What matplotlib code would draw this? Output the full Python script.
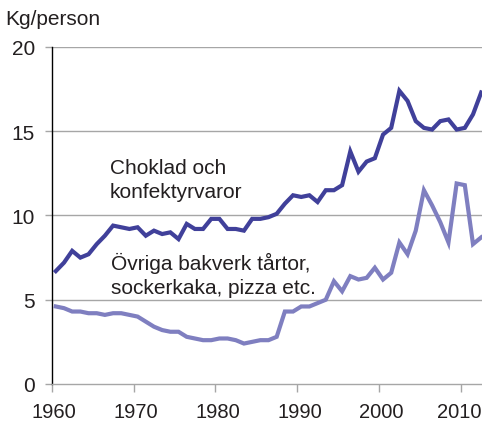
import numpy as np
import matplotlib.pyplot as plt

plt.rcParams['font.family'] = ['Liberation Sans', 'DejaVu Sans']

years = np.arange(1960, 2013)

# kg per person and year
choklad = [6.7, 7.2, 7.9, 7.5, 7.7, 8.3, 8.8, 9.4, 9.3, 9.2,
           9.3, 8.8, 9.1, 8.9, 9.0, 8.6, 9.5, 9.2, 9.2, 9.8,
           9.8, 9.2, 9.2, 9.1, 9.8, 9.8, 9.9, 10.1, 10.7, 11.2,
           11.1, 11.2, 10.8, 11.5, 11.5, 11.8, 13.8, 12.6, 13.2, 13.4,
           14.8, 15.2, 17.4, 16.8, 15.6, 15.2, 15.1, 15.6, 15.7, 15.1,
           15.2, 16.0, 17.3]
ovriga = [4.6, 4.5, 4.3, 4.3, 4.2, 4.2, 4.1, 4.2, 4.2, 4.1,
          4.0, 3.7, 3.4, 3.2, 3.1, 3.1, 2.8, 2.7, 2.6, 2.6,
          2.7, 2.7, 2.6, 2.4, 2.5, 2.6, 2.6, 2.8, 4.3, 4.3,
          4.6, 4.6, 4.8, 5.0, 6.1, 5.5, 6.4, 6.2, 6.3, 6.9,
          6.2, 6.6, 8.4, 7.7, 9.1, 11.5, 10.6, 9.6, 8.4, 11.9,
          11.8, 8.3, 8.7]

decades = [1960, 1970, 1980, 1990, 2000, 2010]
yticks = [0, 5, 10, 15, 20]

dark = '#40409a'
light = '#7f7fc0'
grid_col = '#a6a6a6'
text_col = '#231f20'

fig = plt.figure(figsize=(4.82, 4.27), dpi=100)
ax = fig.add_axes([0.1073, 0.0984, 0.8927, 0.7892])

ax.plot(years, choklad, color=dark, lw=3.0, solid_joinstyle='miter', zorder=3)
ax.plot(years, ovriga, color=light, lw=3.0, solid_joinstyle='miter', zorder=3)

ax.set_xlim(1959.5, 2012.1)
ax.set_ylim(0, 20)

# gridlines
for v in yticks[1:]:
    ax.axhline(v, color=grid_col, lw=1.0, zorder=1)

ax.set_yticks(yticks)
ax.set_yticklabels([str(v) for v in yticks])
ax.tick_params(axis='y', length=5, width=1.0, color=grid_col, pad=7,
               labelsize=15, labelcolor=text_col)

# category style x axis: ticks between years, labels near the year
ax.set_xticks([d - 0.5 for d in decades])
ax.set_xticklabels([])
label_pos = [d - 0.2 for d in decades[:-1]] + [2012.0]
ax.set_xticks(label_pos, minor=True)
ax.set_xticklabels([str(d) for d in decades], minor=True)
ax.tick_params(axis='x', which='major', length=6, width=1.0, color=grid_col)
ax.tick_params(axis='x', which='minor', length=0, pad=13,
               labelsize=14.5, labelcolor=text_col)
ax.get_xticklabels(minor=True)[-1].set_ha('right')

for s in ['top', 'right']:
    ax.spines[s].set_visible(False)
ax.spines['bottom'].set_color(grid_col)
ax.spines['bottom'].set_linewidth(1.0)
ax.spines['left'].set_color('#000000')
ax.spines['left'].set_linewidth(1.0)

ax.text(1966.6, 11.10, 'Choklad och\nkonfektyrvaror', fontsize=15,
        color=text_col, va='baseline', ha='left', linespacing=1.35)
ax.text(1966.7, 5.40, 'Övriga bakverk tårtor,\nsockerkaka, pizza etc.',
        fontsize=15, color=text_col, va='baseline', ha='left', linespacing=1.35)

fig.text(5 / 482, 1 - 25 / 427, 'Kg/person', fontsize=15, color=text_col,
         va='baseline', ha='left')

fig.savefig('out.png', dpi=100)
